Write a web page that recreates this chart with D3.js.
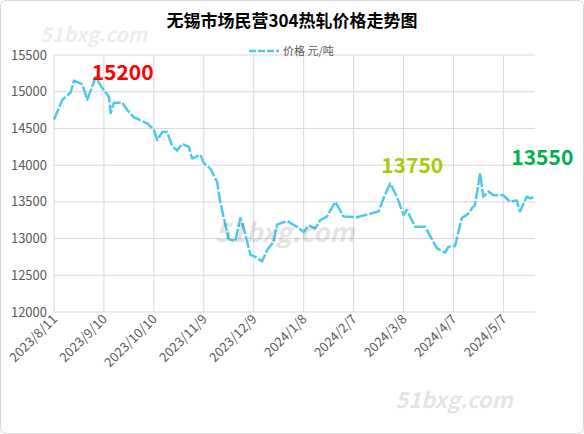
<!DOCTYPE html>
<html><head><meta charset="utf-8">
<script src="https://cdn.jsdelivr.net/npm/d3@7"></script>
<style>body{margin:0;background:#fff;font-family:"Noto Sans CJK SC","Noto Sans",sans-serif;}</style>
</head><body><div id="chart"></div>
<script>
// days since 2023/8/11 and price (元/吨)
var dayOffsets = [0,5,10,12,17,20,25,29,33,34,36,41,44,48,56,60,62,65,68,71,74,77,81,83,88,90,94,98,100,105,109,112,114,118,121,125,128,132,134,140,146,150,153,157,160,164,169,174,182,195,198,202,206,210,212,217,223,230,235,237,241,245,249,251,253,256,258,261,264,270,274,278,280,284,286,288];
var prices = [14620,14890,14990,15150,15100,14890,15200,15050,14930,14710,14850,14850,14750,14650,14570,14480,14340,14450,14450,14260,14200,14290,14250,14090,14140,14030,13950,13770,13480,12990,12970,13280,13140,12780,12750,12690,12840,12960,13190,13240,13160,13090,13180,13140,13250,13300,13500,13300,13290,13370,13550,13750,13570,13320,13390,13160,13160,12870,12810,12890,12900,13280,13340,13410,13460,13890,13570,13640,13590,13590,13500,13520,13370,13570,13550,13560];
var yTicks = [12000,12500,13000,13500,14000,14500,15000,15500];
var xTickOffsets = [0,30,60,90,120,150,180,210,240,270];
var labels = [{text:"15200",day:25,value:15200,color:"#ff0000"},{text:"13750",day:202,value:13750,color:"#a9c90f"},{text:"13550",day:288,value:13550,color:"#00b050"}];

var W = 584, H = 434;
var start = new Date(2023,7,11);
var data = dayOffsets.map(function(d,i){return {date:d3.timeDay.offset(start,d), v:prices[i]};});

var svg = d3.select("#chart").append("svg").attr("width",W).attr("height",H);
svg.append("rect").attr("x",0.5).attr("y",0.5).attr("width",W-1).attr("height",H-1).attr("rx",6)
  .attr("fill","#fff").attr("stroke","#d9d9d9");

var x = d3.scaleTime().domain([start, d3.timeDay.offset(start,289)]).range([54,535]);
var y = d3.scaleLinear().domain([12000,15500]).range([312,55]);

// gridlines
svg.append("g").selectAll("line").data(yTicks).enter().append("line")
  .attr("x1",54).attr("x2",535).attr("y1",d=>y(d)).attr("y2",d=>y(d)).attr("stroke","#d9d9d9");
svg.append("g").selectAll("line").data(xTickOffsets).enter().append("line")
  .attr("x1",d=>x(d3.timeDay.offset(start,d))).attr("x2",d=>x(d3.timeDay.offset(start,d)))
  .attr("y1",55).attr("y2",312).attr("stroke","#d9d9d9");

svg.append("g").selectAll("text").data(yTicks).enter().append("text")
  .attr("x",47).attr("y",d=>y(d)+4.5).attr("text-anchor","end")
  .attr("font-size",13).attr("fill","#595959").text(d=>d);

svg.append("g").selectAll("text").data(xTickOffsets).enter().append("text")
  .attr("transform",d=>"translate("+(x(d3.timeDay.offset(start,d))+4)+",320) rotate(-45)")
  .attr("text-anchor","end").attr("font-size",13).attr("fill","#595959")
  .text(d=>d3.timeFormat("%Y/%-m/%-d")(d3.timeDay.offset(start,d)));

var line = d3.line().x(d=>x(d.date)).y(d=>y(d.v));
svg.append("path").datum(data).attr("d",line).attr("fill","none")
  .attr("stroke","#4fc8ee").attr("stroke-width",2.5).attr("stroke-dasharray","12,2")
  .attr("stroke-linejoin","round");

// title & legend
svg.append("text").attr("x",292).attr("y",27).attr("text-anchor","middle")
  .attr("font-size",17).attr("font-weight","bold").attr("fill","#000").text("无锡市场民营304热轧价格走势图");
svg.append("line").attr("x1",249).attr("x2",279).attr("y1",51).attr("y2",51)
  .attr("stroke","#4fc8ee").attr("stroke-width",2.5).attr("stroke-dasharray","7,2");
svg.append("text").attr("x",283).attr("y",55).attr("font-size",11).attr("fill","#595959").text("价格 元/吨");

// annotation offsets relative to the point (pixels)
var offs = [[27,3],[22,-11],[9,-33]];
svg.append("g").selectAll("text").data(labels).enter().append("text")
  .attr("x",(d,i)=>x(d3.timeDay.offset(start,d.day))+offs[i][0]).attr("y",(d,i)=>y(d.value)+offs[i][1])
  .attr("text-anchor","middle").attr("font-size",21).attr("font-weight","bold")
  .attr("fill",d=>d.color).text(d=>d.text);

// watermarks
svg.append("text").attr("x",40).attr("y",42).attr("font-size",20).attr("font-weight","bold").attr("font-style","italic")
  .attr("fill","#000").attr("opacity",0.07).text("51bxg.com");
svg.append("text").attr("x",215).attr("y",242).attr("font-size",26).attr("font-weight","bold").attr("font-style","italic")
  .attr("fill","#000").attr("opacity",0.1).text("51bxg.com");
svg.append("text").attr("x",395).attr("y",408).attr("font-size",22).attr("font-weight","bold").attr("font-style","italic")
  .attr("fill","#000").attr("opacity",0.1).text("51bxg.com");
</script></body></html>
